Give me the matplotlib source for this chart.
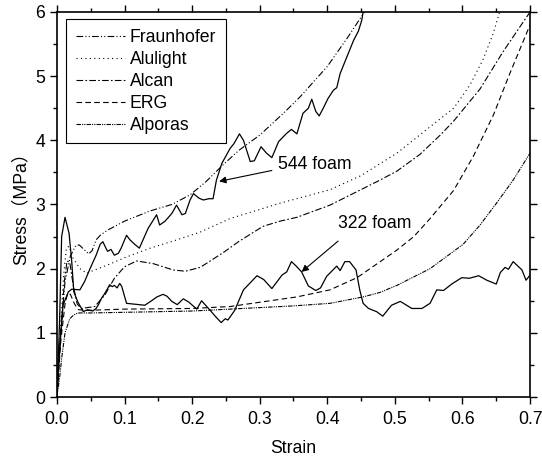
import numpy as np
from matplotlib import pyplot as plt

plt.rcParams['font.family'] = ['Liberation Sans', 'Noto Sans CJK SC', 'DejaVu Sans']

#stress-strain curves (strain, stress in MPa)
fraunhofer_x = [0, 0.005, 0.012, 0.02, 0.028, 0.033, 0.040, 0.047, 0.052, 0.058, 0.065, 0.075, 0.1,
                0.138, 0.17, 0.197, 0.22, 0.246, 0.27, 0.3, 0.335, 0.36, 0.4, 0.43, 0.455]
fraunhofer_y = [0, 0.9, 1.8, 2.2, 2.36, 2.37, 2.3, 2.23, 2.28, 2.45, 2.53, 2.6, 2.74,
                2.9, 3.0, 3.15, 3.35, 3.62, 3.85, 4.08, 4.42, 4.68, 5.15, 5.6, 6.0]

alulight_x = [0, 0.005, 0.01, 0.014, 0.018, 0.024, 0.034, 0.044, 0.061, 0.08, 0.1, 0.138, 0.172,
              0.212, 0.256, 0.33, 0.404, 0.45, 0.503, 0.552, 0.587, 0.611, 0.63, 0.645, 0.655]
alulight_y = [0, 1.0, 1.9, 2.32, 2.35, 2.16, 2.0, 1.93, 2.0, 2.08, 2.17, 2.32, 2.43,
              2.57, 2.78, 3.02, 3.23, 3.45, 3.8, 4.21, 4.5, 4.86, 5.25, 5.65, 6.0]

alcan_x = [0, 0.006, 0.011, 0.015, 0.019, 0.024, 0.03, 0.036, 0.056, 0.071, 0.085, 0.1, 0.118,
           0.142, 0.172, 0.19, 0.212, 0.246, 0.27, 0.305, 0.33, 0.355, 0.404, 0.478, 0.503, 0.537,
           0.567, 0.587, 0.626, 0.66, 0.70]
alcan_y = [0, 1.0, 1.8, 2.12, 2.1, 1.75, 1.45, 1.38, 1.41, 1.59, 1.85, 2.03, 2.12,
           2.08, 1.98, 1.96, 2.02, 2.25, 2.43, 2.66, 2.74, 2.8, 2.99, 3.38, 3.52, 3.78,
           4.08, 4.3, 4.8, 5.38, 6.0]

erg_x = [0, 0.006, 0.012, 0.016, 0.02, 0.026, 0.032, 0.045, 0.1, 0.2, 0.256, 0.355, 0.404, 0.444,
         0.503, 0.528, 0.552, 0.587, 0.616, 0.646, 0.67, 0.70]
erg_y = [0, 0.9, 1.45, 1.62, 1.6, 1.45, 1.36, 1.35, 1.37, 1.38, 1.41, 1.56, 1.67, 1.86,
         2.29, 2.5, 2.78, 3.22, 3.75, 4.4, 5.04, 5.8]

alporas_x = [0, 0.004, 0.007, 0.012, 0.019, 0.025, 0.031, 0.05, 0.1, 0.2, 0.256, 0.35, 0.404,
             0.453, 0.478, 0.503, 0.552, 0.601, 0.626, 0.651, 0.675, 0.70]
alporas_y = [0, 0.3, 0.6, 1.0, 1.22, 1.28, 1.31, 1.31, 1.32, 1.34, 1.37, 1.42, 1.46,
             1.56, 1.63, 1.74, 2.0, 2.38, 2.68, 3.03, 3.38, 3.8]

foam544_x = [0, 0.002, 0.005, 0.009, 0.017, 0.022, 0.034, 0.041, 0.049, 0.058, 0.064, 0.068, 0.072,
             0.075, 0.08, 0.085, 0.091, 0.095, 0.103, 0.108, 0.115, 0.122, 0.135, 0.1475, 0.152,
             0.16, 0.170, 0.177, 0.185, 0.19, 0.197, 0.202, 0.21, 0.2165, 0.225, 0.231, 0.236,
             0.244, 0.256, 0.262, 0.270, 0.276, 0.286, 0.292, 0.302, 0.31, 0.318, 0.328, 0.340,
             0.347, 0.355, 0.364, 0.372, 0.377, 0.383, 0.388, 0.394, 0.401, 0.409, 0.414, 0.419,
             0.429, 0.439, 0.446, 0.451, 0.453]
foam544_y = [0, 0.44, 0.9, 1.43, 1.64, 1.68, 1.67, 1.8, 2.0, 2.21, 2.38, 2.42, 2.33,
             2.27, 2.3, 2.21, 2.24, 2.32, 2.52, 2.45, 2.38, 2.32, 2.63, 2.84, 2.68,
             2.74, 2.86, 2.99, 2.84, 2.86, 3.07, 3.17, 3.10, 3.07, 3.09, 3.09, 3.38,
             3.64, 3.87, 3.95, 4.10, 4.0, 3.67, 3.68, 3.90, 3.80, 3.73, 3.98, 4.11,
             4.17, 4.10, 4.42, 4.50, 4.64, 4.45, 4.38, 4.50, 4.65, 4.78, 4.82, 5.04,
             5.30, 5.56, 5.70, 5.87, 6.0]

foam322_x = [0, 0.004, 0.007, 0.012, 0.018, 0.022, 0.025, 0.031, 0.039, 0.045, 0.049, 0.053, 0.058,
             0.062, 0.066, 0.07, 0.075, 0.078, 0.082, 0.085, 0.089, 0.093, 0.096, 0.103, 0.130,
             0.140, 0.148, 0.157, 0.163, 0.170, 0.178, 0.187, 0.195, 0.207, 0.214, 0.226, 0.235,
             0.243, 0.249, 0.253, 0.263, 0.276, 0.296, 0.306, 0.318, 0.333, 0.34, 0.347, 0.354,
             0.362, 0.372, 0.383, 0.39, 0.399, 0.414, 0.419, 0.426, 0.433, 0.4425, 0.448, 0.453,
             0.461, 0.473, 0.482, 0.495, 0.508, 0.525, 0.540, 0.552, 0.562, 0.572, 0.584, 0.599,
             0.61, 0.624, 0.636, 0.650, 0.656, 0.663, 0.668, 0.675, 0.688, 0.694, 0.70]
foam322_y = [0, 1.2, 2.5, 2.80, 2.55, 2.1, 1.64, 1.48, 1.33, 1.36, 1.35, 1.34, 1.38,
             1.45, 1.54, 1.6, 1.69, 1.75, 1.72, 1.74, 1.70, 1.77, 1.72, 1.46, 1.43,
             1.5, 1.56, 1.60, 1.57, 1.49, 1.44, 1.53, 1.48, 1.37, 1.5, 1.36, 1.25,
             1.16, 1.22, 1.20, 1.35, 1.67, 1.89, 1.83, 1.69, 1.90, 1.95, 2.11, 2.04,
             1.95, 1.73, 1.66, 1.70, 1.88, 2.04, 1.97, 2.11, 2.11, 1.98, 1.67, 1.46,
             1.38, 1.33, 1.26, 1.43, 1.49, 1.38, 1.38, 1.46, 1.67, 1.66, 1.76, 1.86,
             1.85, 1.89, 1.82, 1.76, 1.94, 2.02, 1.99, 2.11, 1.98, 1.82, 1.9]


fs = 12.7
lw = 0.8

plt.close('all')
fig = plt.figure(figsize=(5.42, 4.59), dpi=100)
ax = plt.axes([0.105, 0.135, 0.873, 0.839])

ax.plot(fraunhofer_x, fraunhofer_y, color='k', lw=lw, ls=(0, (6, 2, 1, 2, 1, 2)), label='Fraunhofer')
ax.plot(alulight_x, alulight_y, color='k', lw=lw, ls=(0, (1, 3)), label='Alulight')
ax.plot(alcan_x, alcan_y, color='k', lw=lw, ls=(0, (6, 2, 1.5, 2)), label='Alcan')
ax.plot(erg_x, erg_y, color='k', lw=lw, ls=(0, (5, 3)), label='ERG')
ax.plot(alporas_x, alporas_y, color='k', lw=lw, ls=(0, (4, 1, 1, 1, 1, 1)), label='Alporas')
ax.plot(foam544_x, foam544_y, color='k', lw=0.9)
ax.plot(foam322_x, foam322_y, color='k', lw=0.9)

arrow = dict(arrowstyle='-|>', color='k', lw=0.8, mutation_scale=10, shrinkA=0, shrinkB=0)
ax.annotate('', xy=(0.240, 3.36), xytext=(0.318, 3.53), arrowprops=arrow)
ax.text(0.327, 3.62, '544 foam', fontsize=fs, ha='left', va='center')
ax.annotate('', xy=(0.362, 1.95), xytext=(0.416, 2.43), arrowprops=arrow)
ax.text(0.416, 2.70, '322 foam', fontsize=fs, ha='left', va='center')

leg = ax.legend(loc='upper left', bbox_to_anchor=(0.02, 0.981), fontsize=fs, frameon=True,
                fancybox=False, edgecolor='k', framealpha=1, handlelength=2.75,
                handletextpad=0.3, labelspacing=0.28, borderpad=0.55, borderaxespad=0)
leg.get_frame().set_linewidth(0.8)

ax.set_xlim(0, 0.7)
ax.set_ylim(0, 6)
ax.set_xticks(np.arange(0, 0.71, 0.1))
ax.set_xticks(np.arange(0.05, 0.7, 0.1), minor=True)
ax.set_yticks(np.arange(0, 7, 1))
ax.set_yticks(np.arange(0.5, 6, 1), minor=True)
ax.xaxis.set_major_formatter(plt.FormatStrFormatter('%.1f'))
ax.tick_params(which='both', direction='out', top=True, right=True, labelsize=fs, width=1)
ax.tick_params(which='major', length=5)
ax.tick_params(which='minor', length=3)
ax.tick_params(axis='x', pad=5)
for s in ax.spines.values():
    s.set_linewidth(1.2)

ax.set_xlabel('Strain', fontsize=fs, labelpad=9)
ax.set_ylabel('Stress（MPa）', fontsize=fs, labelpad=4)

plt.savefig('out.png', dpi=100)
